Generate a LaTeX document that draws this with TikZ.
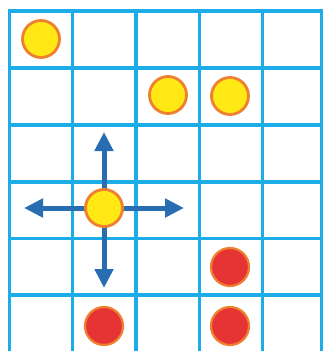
\documentclass[tikz,border=0pt]{standalone}
\usetikzlibrary{arrows.meta}
\definecolor{gridcyan}{RGB}{28,172,232}
\definecolor{dotyellow}{RGB}{255,232,20}
\definecolor{dotorange}{RGB}{238,128,48}
\definecolor{dotred}{RGB}{230,52,52}
\definecolor{arrblue}{RGB}{40,108,178}
\tikzset{
  gridline/.style={draw=gridcyan, line width=3.2pt},
  ydot/.style={circle, fill=dotyellow, draw=dotorange, line width=2.8pt, minimum size=37pt, inner sep=0pt},
  rdot/.style={circle, fill=dotred, draw=dotorange, line width=2.2pt, minimum size=38pt, inner sep=0pt},
  movearrow/.style={draw=arrblue, line width=5pt, -{Triangle[width=18pt,length=19pt]}}
}
\begin{document}
\begin{tikzpicture}[x=1pt,y=-1pt]
\useasboundingbox (0,0) rectangle (323,351);
\fill[white] (0,0) rectangle (323,351);
% grid
\foreach \x in {9.5,72.5,136,199.5,262.5,321.5}
  \draw[gridline] (\x,9.4) -- (\x,356);
\foreach \y in {11,68,125,182,238.5,295}
  \draw[gridline] (7.9,\y) -- (321.5,\y);
% coordinates for arrow tips
\coordinate (c) at (104,208);
\coordinate (tu) at (104,132);
\coordinate (td) at (104,288);
\coordinate (tl) at (24,208);
\coordinate (tr) at (184,208);
% arrows
\draw[movearrow] (c) -- (tu);
\draw[movearrow] (c) -- (td);
\draw[movearrow] (c) -- (tl);
\draw[movearrow] (c) -- (tr);
% dots
\node[ydot] (y1) at (41,39) {};
\node[ydot] (y2) at (168,95) {};
\node[ydot] (y3) at (230,96) {};
\node[ydot] (y4) at (c) {};
\node[rdot] (r1) at (230,267) {};
\node[rdot] (r2) at (104,326) {};
\node[rdot] (r3) at (230,326) {};
\end{tikzpicture}
\end{document}
